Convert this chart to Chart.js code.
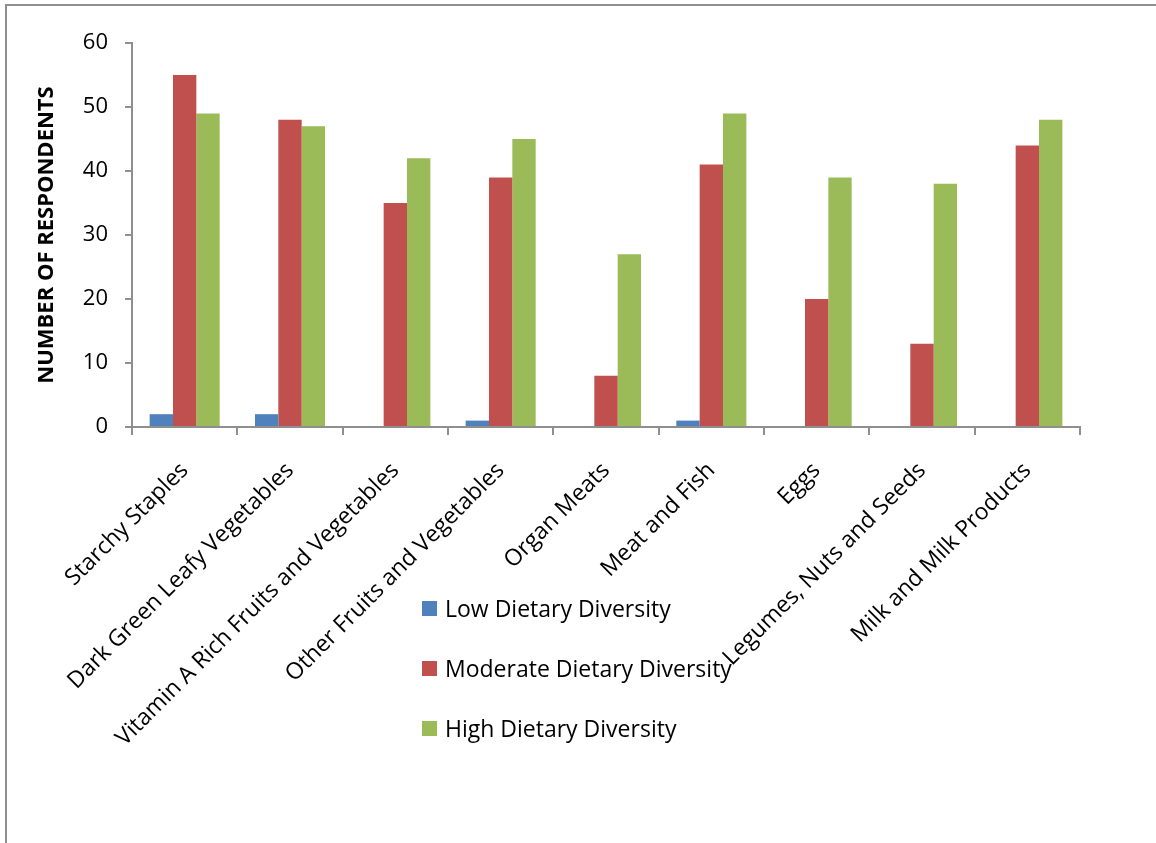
<!DOCTYPE html>
<html>
<head>
<meta charset="utf-8">
<script src="https://cdn.jsdelivr.net/npm/chart.js@4/dist/chart.umd.min.js"></script>
<style>
  html, body { margin: 0; padding: 0; background: #fff; overflow: hidden; }
  #wrap { position: relative; width: 1156px; height: 843px; }
  #frame { position: absolute; left: 5px; top: 4px; width: 1300px; height: 1000px; border: 2px solid #8f8f8f; box-sizing: border-box; }
  #chart { position: absolute; left: 0; top: 0; }
  #legend { position: absolute; left: 422px; top: 595px; font-family: 'Open Sans', sans-serif; font-size: 23px; color: #000; }
  .row { display: flex; align-items: center; height: 26px; margin-bottom: 34px; }
  .sw { width: 15px; height: 15px; margin-right: 8px; }
</style>
</head>
<body>
<div id="wrap">
  <div id="frame"></div>
  <canvas id="chart" width="1156" height="843"></canvas>
  <div id="legend"></div>
</div>
<script>
// datos
const categories = ['Starchy Staples', 'Dark Green Leafy Vegetables', 'Vitamin A Rich Fruits and Vegetables',
    'Other Fruits and Vegetables', 'Organ Meats', 'Meat and Fish', 'Eggs', 'Legumes, Nuts and Seeds', 'Milk and Milk Products'];
const lowDiversity = [2, 2, 0, 1, 0, 1, 0, 0, 0];
const moderateDiversity = [55, 48, 35, 39, 8, 41, 20, 13, 44];
const highDiversity = [49, 47, 42, 45, 27, 49, 39, 38, 48];
const seriesNames = ['Low Dietary Diversity', 'Moderate Dietary Diversity', 'High Dietary Diversity'];
const seriesColors = ['#4f81bd', '#c0504d', '#9bbb59'];

const axisColor = '#8f8f8f';
const font = "'Open Sans', sans-serif";

const ctx = document.getElementById('chart').getContext('2d');
const chart = new Chart(ctx, {
    type: 'bar',
    data: {
        labels: categories,
        datasets: [lowDiversity, moderateDiversity, highDiversity].map((d, i) => ({
            label: seriesNames[i],
            data: d,
            backgroundColor: seriesColors[i],
            borderWidth: 0,
            categoryPercentage: 0.665,
            barPercentage: 1
        }))
    },
    options: {
        responsive: false,
        animation: false,
        layout: { padding: { top: 43, right: 76, left: 0, bottom: 0 } },
        plugins: { legend: { display: false }, tooltip: { enabled: false } },
        scales: {
            x: {
                grid: { drawOnChartArea: false, drawTicks: true, tickLength: 8, color: axisColor, lineWidth: 2 },
                border: { color: axisColor, width: 2 },
                ticks: { autoSkip: false, minRotation: 45, maxRotation: 45, padding: 22, color: '#000', font: { family: font, size: 23 } },
                afterFit(scale) { scale.height = 416; }
            },
            y: {
                min: 0, max: 60,
                grid: { drawOnChartArea: false, drawTicks: true, tickLength: 7, color: axisColor, lineWidth: 2 },
                border: { color: axisColor, width: 2 },
                ticks: { stepSize: 10, padding: 17, color: '#000', font: { family: font, size: 22 } },
                title: {
                    display: true, text: 'NUMBER OF RESPONDENTS', color: '#000',
                    font: { family: font, size: 22, weight: 'bold' }, padding: { top: 34, bottom: 0 }
                },
                afterFit(scale) { scale.width = 132; }
            }
        }
    }
});

// leyenda
document.getElementById('legend').innerHTML = chart.data.datasets.map(ds => `
    <div class="row"><span class="sw" style="background:${ds.backgroundColor}"></span><span>${ds.label}</span></div>
`).join('');
</script>
</body>
</html>
